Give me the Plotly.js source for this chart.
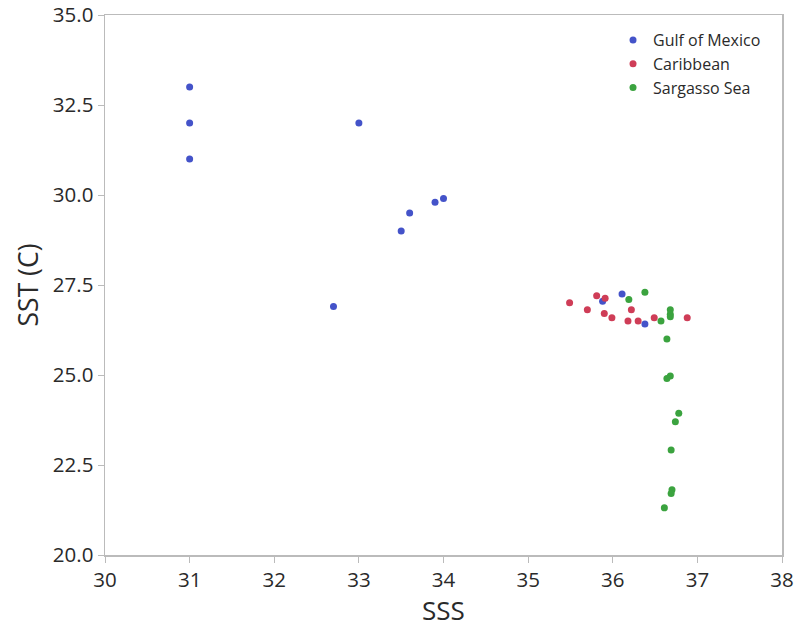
<!DOCTYPE html>
<html>
<head>
<meta charset="utf-8">
<script src="https://cdn.plot.ly/plotly-3.0.1.min.js"></script>
<style>html,body{margin:0;padding:0;background:#fff;}#chart{width:798px;height:628px;}</style>
</head>
<body>
<div id="chart"></div>
<script>
// Gulf of Mexico
const gulfSSS = [31.0, 31.0, 31.0, 33.0, 32.7, 33.5, 33.6, 33.9, 34.0, 35.88, 36.11, 36.38];
const gulfSST = [33.0, 32.0, 31.0, 32.0, 26.9, 29.0, 29.5, 29.8, 29.9, 27.05, 27.25, 26.42];
// Caribbean
const caribSSS = [35.49, 35.70, 35.81, 35.91, 35.90, 35.99, 36.18, 36.22, 36.30, 36.49, 36.88];
const caribSST = [27.01, 26.81, 27.20, 27.13, 26.71, 26.59, 26.50, 26.81, 26.50, 26.59, 26.59];
// Sargasso Sea
const sargSSS = [36.38, 36.19, 36.57, 36.68, 36.68, 36.68, 36.64, 36.68, 36.64, 36.78, 36.74, 36.69, 36.70, 36.69, 36.61];
const sargSST = [27.30, 27.10, 26.50, 26.81, 26.69, 26.62, 26.00, 24.97, 24.90, 23.94, 23.70, 22.92, 21.81, 21.71, 21.31];

const seriesNames = ["Gulf of Mexico", "Caribbean", "Sargasso Sea"];
const colors = ["#4453C9", "#CF3D57", "#3BA33F"];
const xs = [gulfSSS, caribSSS, sargSSS];
const ys = [gulfSST, caribSST, sargSST];

const traces = seriesNames.map((n, i) => ({
  type: "scatter", mode: "markers", name: n,
  x: xs[i], y: ys[i],
  marker: {color: colors[i], size: 7}
}));

const font = "'Open Sans', 'Noto Sans', sans-serif";
const layout = {
  width: 798, height: 628,
  margin: {l: 105, r: 16, t: 15, b: 73},
  paper_bgcolor: "#fff", plot_bgcolor: "#fff",
  showlegend: true,
  legend: {x: 0.7504, y: 0.985, xanchor: "left", yanchor: "top",
    font: {family: font, size: 16, color: "#2a2a2a"}, itemsizing: "trace",
    tracegroupgap: 0, bgcolor: "rgba(0,0,0,0)"},
  xaxis: {range: [30, 38], dtick: 1, tick0: 30, showgrid: false, zeroline: false,
    showline: true, linecolor: "#bbb", linewidth: 1.5, mirror: true,
    ticks: "outside", ticklen: 6, tickcolor: "#bbb",
    tickfont: {family: font, size: 20.5, color: "#2a2a2a"},
    title: {text: "SSS", font: {family: font, size: 26, color: "#2a2a2a"}, standoff: 4}},
  yaxis: {range: [20, 35], dtick: 2.5, tick0: 20, tickformat: ".1f", showgrid: false, zeroline: false,
    showline: true, linecolor: "#bbb", linewidth: 1.5, mirror: true,
    ticks: "outside", ticklen: 6, tickcolor: "#bbb",
    tickfont: {family: font, size: 20.5, color: "#2a2a2a"},
    title: {text: "SST (C)", font: {family: font, size: 26.5, color: "#2a2a2a"}, standoff: 6}}
};
Plotly.newPlot("chart", traces, layout, {displayModeBar: false, staticPlot: true});
</script>
</body>
</html>
